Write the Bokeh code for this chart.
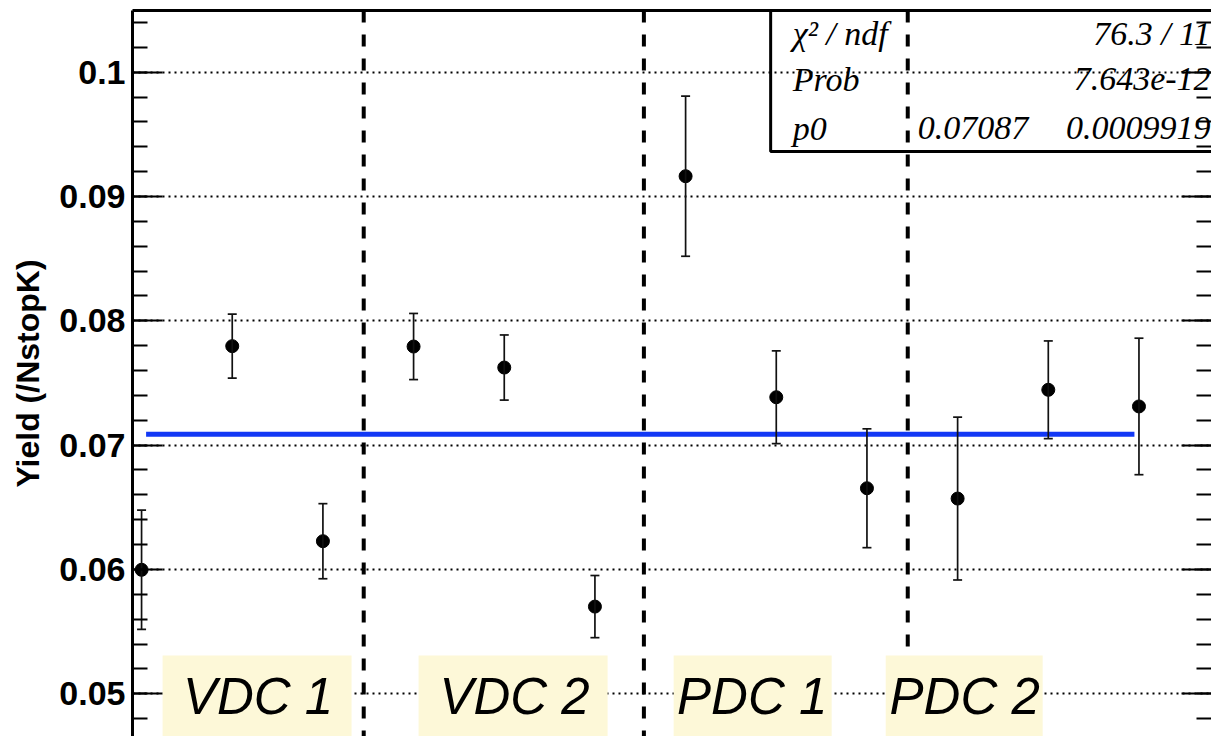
from bokeh.plotting import figure
from bokeh.models import (Range1d, LinearAxis, Span, BoxAnnotation, Label, Whisker, FixedTicker,
                          ColumnDataSource, SingleIntervalTicker, NumeralTickFormatter, TeeHead)
from bokeh.embed import file_html
from bokeh.resources import INLINE

# ---- data ----
runs = [1, 2, 3, 4, 5, 6, 7, 8, 9, 10, 11, 12]
yield_vals = [0.05997, 0.07796, 0.06227, 0.07793, 0.07624, 0.05701,
              0.09163, 0.07385, 0.06653, 0.06570, 0.07445, 0.07311]
yield_errs = [0.00480, 0.00257, 0.00302, 0.00266, 0.00262, 0.00250,
              0.00644, 0.00373, 0.00478, 0.00655, 0.00393, 0.00549]
fit_x = [1.05, 11.95]
fit_p0 = 0.07087
dividers = [3.45, 6.54, 9.45]
region_names = ["VDC 1", "VDC 2", "PDC 1", "PDC 2"]
region_centers = [2.285, 5.114, 7.734, 10.078]
region_boxes = [(1.232, 3.316), (4.055, 6.140), (6.868, 8.611), (9.207, 10.938)]
stat_names = ["\u03c7\u00b2 / ndf", "Prob", "p0"]
stat_values = ["76.3 / 11", "7.643e-12", "0.0009919"]
p0_value_text = "0.07087"

lower = [v - e for v, e in zip(yield_vals, yield_errs)]
upper = [v + e for v, e in zip(yield_vals, yield_errs)]
src = ColumnDataSource(dict(x=runs, y=yield_vals, lo=lower, hi=upper))

p = figure(width=1211, height=736, output_backend="svg", toolbar_location=None,
           x_range=Range1d(0.90, 12.80), y_range=Range1d(0.04656, 0.10496),
           x_axis_location="above", y_axis_location="left",
           min_border_left=132, min_border_right=0, min_border_top=10, min_border_bottom=0)
p.outline_line_color = None
p.background_fill_color = "white"

# top frame line (x axis above, without ticks and labels)
xa = p.xaxis[0]
xa.ticker = FixedTicker(ticks=[])
xa.axis_line_width = 3
xa.axis_line_color = "black"
xa.major_tick_line_color = None
xa.minor_tick_line_color = None
xa.major_label_text_font_size = "0px"
xa.major_label_text_color = None
xa.major_label_standoff = 0
xa.major_tick_out = 0
xa.minor_tick_out = 0

# left y axis
ya = p.yaxis[0]
ya.ticker = SingleIntervalTicker(interval=0.01, num_minor_ticks=5)
ya.formatter = NumeralTickFormatter(format="0.0[0]")
ya.axis_line_width = 3
ya.axis_line_color = "black"
ya.major_tick_line_color = "black"
ya.minor_tick_line_color = "black"
ya.major_tick_line_width = 2
ya.minor_tick_line_width = 2
ya.major_tick_in = 30
ya.major_tick_out = 0
ya.minor_tick_in = 15
ya.minor_tick_out = 0
ya.major_label_text_font = "Liberation Sans"
ya.major_label_text_font_style = "bold"
ya.major_label_text_font_size = "34px"
ya.major_label_text_color = "black"
ya.major_label_standoff = 7
ya.axis_label = "Yield (/NstopK)"
ya.axis_label_text_font = "Liberation Sans"
ya.axis_label_text_font_style = "bold"
ya.axis_label_text_font_size = "32px"
ya.axis_label_text_color = "black"
ya.axis_label_standoff = 10

# right y axis: ticks only
ra = LinearAxis(ticker=SingleIntervalTicker(interval=0.01, num_minor_ticks=5))
ra.axis_line_color = None
ra.major_tick_line_color = "black"
ra.minor_tick_line_color = "black"
ra.major_tick_line_width = 2
ra.minor_tick_line_width = 2
ra.major_tick_in = 30
ra.major_tick_out = 0
ra.minor_tick_in = 15
ra.minor_tick_out = 0
ra.major_label_text_font_size = "0px"
ra.major_label_text_color = None
ra.major_label_standoff = 0
p.add_layout(ra, "right")

# grid
p.xgrid.visible = False
p.ygrid.ticker = SingleIntervalTicker(interval=0.01)
p.ygrid.grid_line_color = "black"
p.ygrid.grid_line_dash = "2 4"
p.ygrid.grid_line_width = 2

# error bars and points
wh = Whisker(source=src, base="x", lower="lo", upper="hi", line_color="#111111", line_width=1.7,
             upper_head=TeeHead(size=9, line_width=1.7, line_color="#111111"),
             lower_head=TeeHead(size=9, line_width=1.7, line_color="#111111"), level="glyph")
p.add_layout(wh)
p.scatter("x", "y", source=src, size=13, color="black", marker="circle")

# fit line
p.line(fit_x, [fit_p0, fit_p0], line_color="#1238f5", line_width=5)

# dividers
for d in dividers:
    p.add_layout(Span(location=d, dimension="height", line_color="black", line_width=4,
                      line_dash="12 12"))

# region labels
for (l, r), c, name in zip(region_boxes, region_centers, region_names):
    p.add_layout(BoxAnnotation(left=l, right=r, bottom=0.04640, top=0.05307,
                               fill_color="#fdf8d8", fill_alpha=1.0, line_color=None))
    p.add_layout(Label(x=c, y=0.04978, text=name, text_align="center",
                       text_baseline="alphabetic", text_font="Liberation Sans",
                       text_font_style="italic", text_font_size="51px", text_color="black"))

# stats box
p.add_layout(BoxAnnotation(left=7.938, right=13.5, bottom=0.09362, top=0.11,
                           fill_color=None, fill_alpha=0, line_color="black",
                           line_alpha=1.0, line_width=3))
row_y = [0.10311, 0.09941, 0.09547]
for name, val, yy in zip(stat_names, stat_values, row_y):
    p.add_layout(Label(x=8.181, y=yy, text=name, text_align="left", text_baseline="alphabetic",
                       text_font="Liberation Serif", text_font_style="italic",
                       text_font_size="34px", text_color="black"))
    p.add_layout(Label(x=12.79, y=yy, text=val, text_align="right", text_baseline="alphabetic",
                       text_font="Liberation Serif", text_font_style="italic",
                       text_font_size="34px", text_color="black"))
p.add_layout(Label(x=10.78, y=row_y[2], text=p0_value_text, text_align="right",
                   text_baseline="alphabetic", text_font="Liberation Serif",
                   text_font_style="italic", text_font_size="34px", text_color="black"))

open("out.html", "w").write(file_html(p, INLINE))
